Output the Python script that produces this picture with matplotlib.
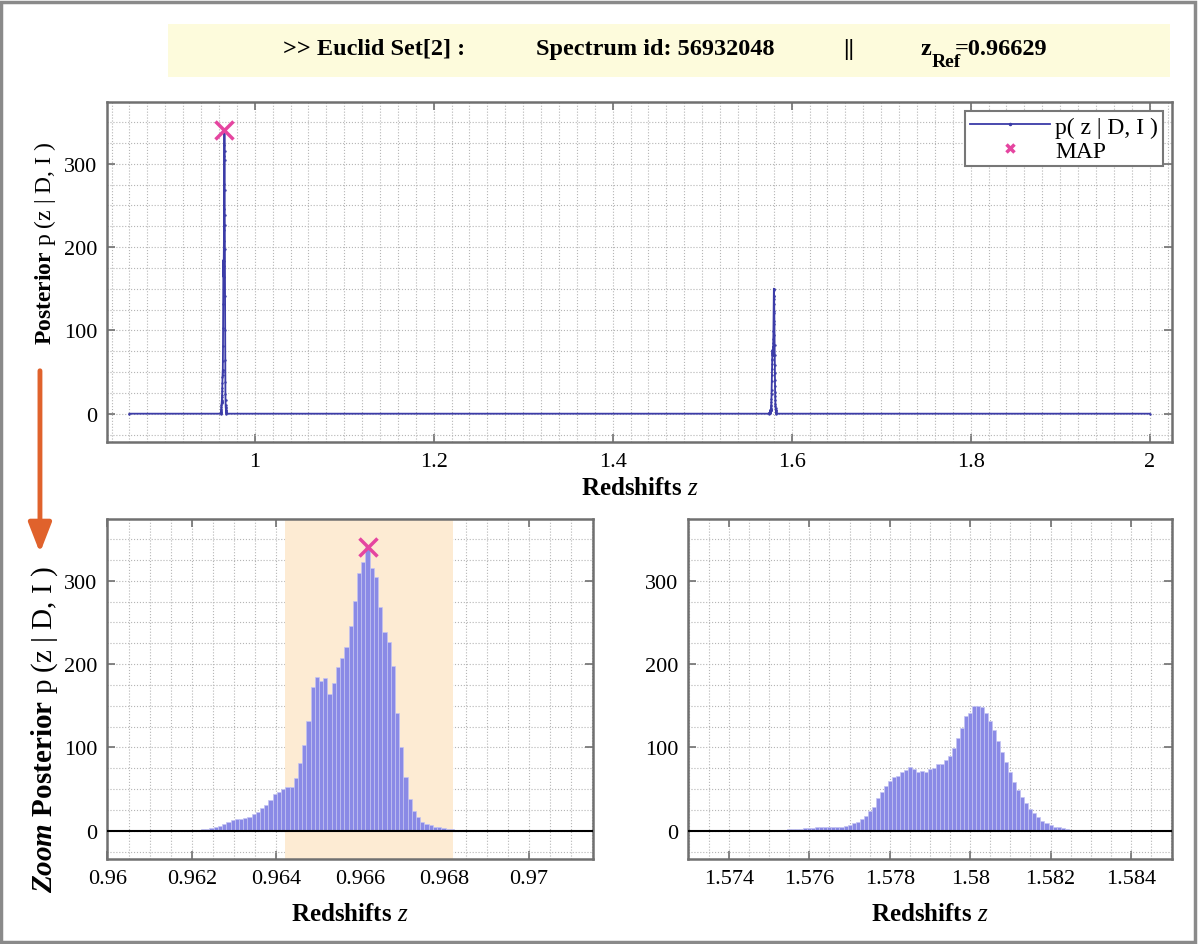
import numpy as np
import matplotlib
matplotlib.use('Agg')
import matplotlib.pyplot as plt
from matplotlib.ticker import MultipleLocator, FuncFormatter
from matplotlib.lines import Line2D
from matplotlib.patches import Rectangle, FancyArrowPatch

# ---- data ----
set_name = 'Euclid Set[2]'
spectrum_id = 56932048
z_ref = 0.96629
z_map = 0.96617
p_map = 340
z_range = [0.86, 2.0]
bin_width = 0.0001

# first peak (zoom left)
z1_start = 0.96207
p1 = [1, 1, 2, 2, 3, 4, 6, 8, 11, 13, 14, 14, 15, 17, 20, 23, 27, 31, 37, 44,
      46, 50, 52, 53, 63, 81, 103, 132, 173, 184, 180, 183, 164, 177, 197, 207,
      220, 246, 276, 309, 322, 340, 315, 304, 269, 239, 226, 198, 141, 100, 65,
      38, 24, 16, 11, 8, 7, 5, 4, 3, 2, 2, 1]
interval = [0.96421, 0.96820]

# second peak (zoom right)
z2_start = 1.5750
p2 = [1, 1, 1, 1, 1, 2, 2, 2, 2, 3, 3, 3, 4, 4, 4, 4, 4, 5, 5, 6, 7, 9, 11, 14,
      18, 24, 28, 39, 47, 54, 60, 64, 66, 70, 73, 76, 74, 71, 72, 70, 74, 75,
      80, 80, 85, 90, 99, 111, 123, 138, 141, 150, 150, 148, 141, 132, 121, 108,
      95, 83, 71, 59, 49, 40, 33, 26, 21, 16, 12, 9, 7, 5, 4, 3, 2, 1, 1]

z1 = z1_start + bin_width * np.arange(len(p1))
z2 = z2_start + bin_width * np.arange(len(p2))

# full posterior curve: zero outside both peaks
z_all = np.concatenate([[z_range[0]], [z1[0] - bin_width], z1, [z1[-1] + bin_width],
                        [z2[0] - bin_width], z2, [z2[-1] + bin_width], [z_range[1]]])
p_all = np.concatenate([[0, 0], p1, [0, 0], p2, [0, 0]])

# ---- style ----
plt.rcParams['font.family'] = ['Liberation Serif', 'DejaVu Serif']
plt.rcParams['mathtext.fontset'] = 'custom'
plt.rcParams['mathtext.rm'] = 'Liberation Serif'
plt.rcParams['mathtext.it'] = 'Liberation Serif:italic'
plt.rcParams['mathtext.bf'] = 'Liberation Serif:bold'
plt.rcParams['mathtext.bfit'] = 'Liberation Serif:bold:italic'

line_col = '#3c3ca8'
bar_col = '#8a8ae6'
map_col = '#e545a0'
spine_col = '#707070'
ylim = (-34, 374)

fmt = FuncFormatter(lambda v, pos: '%g' % round(v, 6))


def style_axes(ax, xmaj, xmin, labelpad):
    ax.xaxis.set_major_locator(MultipleLocator(xmaj))
    ax.xaxis.set_minor_locator(MultipleLocator(xmin))
    ax.yaxis.set_major_locator(MultipleLocator(100))
    ax.yaxis.set_minor_locator(MultipleLocator(25))
    ax.xaxis.set_major_formatter(fmt)
    ax.grid(True, which='both', linestyle=':', linewidth=0.8, color='#b5b5b5')
    ax.set_axisbelow(True)
    ax.tick_params(which='major', direction='in', length=6, width=1.2,
                   color=spine_col, top=True, right=True, labelsize=16, pad=7)
    ax.tick_params(which='minor', length=0)
    for s in ax.spines.values():
        s.set_color(spine_col)
        s.set_linewidth(1.8)
    ax.set_ylim(*ylim)
    ax.set_xlabel(r'Redshifts $z$', fontsize=18, fontweight='bold', labelpad=labelpad)


fig = plt.figure(figsize=(12, 9.45), dpi=100)

# figure frame
fig.patches.append(Rectangle((0.001, 0.002), 0.995, 0.995, transform=fig.transFigure,
                             fill=False, edgecolor='#8a8a8a', linewidth=2.5))

# header box
fig.patches.append(Rectangle((0.140, 0.9175), 0.835, 0.056, transform=fig.transFigure,
                             facecolor='#fdfbdc', edgecolor='none'))
hy = 0.9418
hfs = 17.5
fig.text(0.236, hy, '>> ' + set_name + ' :', fontsize=hfs, fontweight='bold', va='baseline')
fig.text(0.447, hy, 'Spectrum id: %d' % spectrum_id, fontsize=hfs, fontweight='bold', va='baseline')
fig.text(0.707, hy, '||', fontsize=hfs, fontweight='bold', va='baseline', ha='center')
fig.text(0.767, hy, 'z', fontsize=hfs, fontweight='bold', va='baseline')
fig.text(0.776, hy - 0.0125, 'Ref', fontsize=14, fontweight='bold', va='baseline')
fig.text(0.796, hy, '=%.5f' % z_ref, fontsize=hfs, fontweight='bold', va='baseline')

# top panel: full posterior
ax1 = fig.add_axes([0.0892, 0.5312, 0.8875, 0.3598])
ax1.plot(z_all, p_all, color=line_col, linewidth=1.3, marker='.', markersize=1.5)
ax1.plot([z_map], [p_map], linestyle='none', marker='x', color=map_col,
         markersize=13, markeredgewidth=2.5)
ax1.set_xlim(0.835, 2.025)
style_axes(ax1, 0.2, 0.02, 4)
handles = [Line2D([], [], color=line_col, linewidth=1.3, marker='.', markersize=3,
                  markevery=[1]),
           Line2D([], [], linestyle='none', marker='x', color=map_col,
                  markersize=6, markeredgewidth=2.5)]
leg = ax1.legend(handles, ['p( z | D, I )', 'MAP'], loc='upper right', fontsize=17,
                 fancybox=False, framealpha=1, edgecolor='#777777',
                 borderaxespad=0.4, handlelength=3.4, handletextpad=0.2,
                 labelspacing=0.1, borderpad=0.2)
leg.get_frame().set_linewidth(1.5)

# bottom left: zoom on the first peak
ax2 = fig.add_axes([0.0892, 0.0899, 0.405, 0.3598])
ax2.axvspan(interval[0], interval[1], color='#fdebd3', zorder=0.8, linewidth=0)
ax2.bar(z1, p1, width=bin_width, color=bar_col, edgecolor='#c4c4f2',
        linewidth=0.5, zorder=2)
ax2.axhline(0, color='black', linewidth=1.5, zorder=3)
ax2.plot([z_map], [p_map], linestyle='none', marker='x', color=map_col,
         markersize=13, markeredgewidth=2.5, zorder=4)
ax2.set_xlim(0.95999, 0.97152)
style_axes(ax2, 0.002, 0.0005, 10)

# bottom right: zoom on the second peak
ax3 = fig.add_axes([0.5733, 0.0899, 0.4033, 0.3598])
ax3.bar(z2, p2, width=bin_width, color=bar_col, edgecolor='#c4c4f2',
        linewidth=0.5, zorder=2)
ax3.axhline(0, color='black', linewidth=1.5, zorder=3)
ax3.set_xlim(1.57298, 1.58502)
style_axes(ax3, 0.002, 0.0005, 10)

# y labels
fig.text(0.0375, 0.742, r'$\mathbf{Posterior}$ p (z | D, I )', fontsize=17,
         rotation=90, ha='center', va='center')
fig.text(0.0375, 0.2275, r'$\mathbfit{Zoom}$ $\mathbf{Posterior}$ p (z | D, I )',
         fontsize=21, rotation=90, ha='center', va='center')

# orange arrow between the panels
fig.add_artist(FancyArrowPatch(
    (0.0333, 0.6095), (0.0333, 0.411), transform=fig.transFigure,
    arrowstyle='-|>,head_length=9,head_width=3.5', color='#e0622c', linewidth=3.5,
    mutation_scale=2))

plt.savefig('out.png', dpi=100)
